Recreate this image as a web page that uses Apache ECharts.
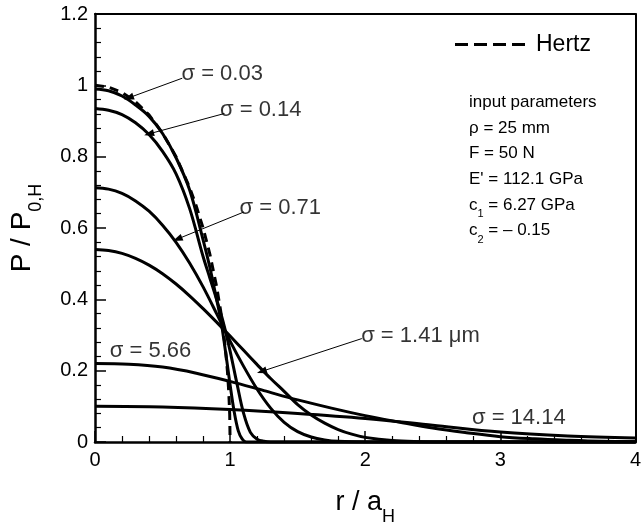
<!DOCTYPE html>
<html><head><meta charset="utf-8">
<script src="https://cdn.jsdelivr.net/npm/echarts@6/dist/echarts.min.js"></script>
<style>html,body{margin:0;padding:0;background:#fff}#c{width:644px;height:531px}</style>
</head><body><div id="c"></div><script>
// ---- data ----
const xTicks = [0, 1, 2, 3, 4];
const yTicks = [0, 0.2, 0.4, 0.6, 0.8, 1, 1.2];

const hertzR = [0,0.1,0.2,0.3,0.4,0.5,0.6,0.7,0.75,0.8,0.85,0.9,0.93,0.95,0.97,0.98,0.99,0.997,1.0];
const hertzP = [1.0,0.995,0.98,0.954,0.917,0.866,0.8,0.714,0.661,0.6,0.527,0.436,0.368,0.312,0.243,0.199,0.141,0.077,0];

const s003R = [0,0.1,0.2,0.3,0.4,0.5,0.6,0.7,0.8,0.85,0.9,0.93,0.96,1.0,1.03,1.06,1.09,1.12,1.2,4];
const s003P = [0.99,0.985,0.97,0.945,0.913,0.865,0.797,0.707,0.567,0.49,0.40,0.344,0.27,0.16,0.085,0.032,0.008,0,0,0];

const s014R = [0,0.1,0.2,0.3,0.4,0.5,0.6,0.7,0.8,0.85,0.9,0.95,1.0,1.05,1.1,1.15,1.2,1.25,1.3,4];
const s014P = [0.935,0.93,0.918,0.895,0.862,0.815,0.752,0.655,0.52,0.46,0.40,0.335,0.255,0.165,0.08,0.027,0.008,0.002,0,0];

const s071R = [0,0.1,0.2,0.3,0.4,0.5,0.6,0.7,0.8,0.9,1.0,1.1,1.2,1.3,1.4,1.5,1.6,1.7,1.8,2.0,4];
const s071P = [0.713,0.709,0.697,0.676,0.647,0.608,0.56,0.502,0.435,0.36,0.283,0.212,0.148,0.095,0.055,0.029,0.014,0.006,0.002,0,0];

const s141R = [0,0.1,0.2,0.3,0.4,0.5,0.6,0.7,0.8,0.9,1.0,1.1,1.2,1.3,1.4,1.5,1.6,1.7,1.8,1.9,2.0,2.2,2.4,2.6,4];
const s141P = [0.54,0.537,0.529,0.515,0.496,0.472,0.443,0.41,0.374,0.336,0.297,0.257,0.217,0.178,0.142,0.105,0.076,0.053,0.035,0.022,0.013,0.004,0.001,0,0];

const s566R = [0,0.25,0.5,0.75,1.0,1.25,1.5,1.75,2.0,2.25,2.5,2.75,3.0,3.25,3.5,3.75,4.0];
const s566P = [0.22,0.218,0.21,0.193,0.17,0.144,0.118,0.095,0.074,0.056,0.039,0.026,0.015,0.009,0.005,0.002,0.001];

const s1414R = [0,0.5,1.0,1.5,2.0,2.5,3.0,3.5,4.0];
const s1414P = [0.10,0.098,0.091,0.080,0.066,0.047,0.028,0.017,0.011];

// annotation labels [r, P, text]
const noteLabels = [
  [0.64, 1.032, 'σ = 0.03'],
  [0.925, 0.932, 'σ = 0.14'],
  [1.07, 0.656, 'σ = 0.71'],
  [1.97, 0.298, 'σ = 1.41 μm'],
  [0.11, 0.255, 'σ = 5.66'],
  [2.79, 0.068, 'σ = 14.14']
];
// arrows [fromR, fromP, toR, toP]
const noteArrows = [
  [0.646, 1.02, 0.25, 0.965],
  [0.958, 0.921, 0.40, 0.864],
  [1.103, 0.645, 0.61, 0.569],
  [1.975, 0.29, 1.234, 0.198]
];
const paramLines = [
  'input parameters',
  'ρ = 25 mm',
  'F = 50 N',
  "E' = 112.1 GPa",
  'c{s|1} = 6.27 GPa',
  'c{s|2} = – 0.15'
];

// ---- chart ----
const FONT = 'Liberation Sans, Arial, sans-serif';
const zip = (r, p) => r.map((v, i) => [v, p[i]]);
const solid = (name, r, p) => ({
  name, type: 'line', data: zip(r, p), showSymbol: false, symbol: 'none', smooth: 0.35,
  lineStyle: { color: '#000', width: 3 }, itemStyle: { color: '#000' }, z: 3, silent: true
});

const chart = echarts.init(document.getElementById('c'), null, { renderer: 'canvas' });
const axisCommon = {
  axisLine: { show: true, onZero: false, lineStyle: { color: '#000', width: 2.5 } },
  splitLine: { show: false }
};
const option = {
  animation: false,
  backgroundColor: '#fff',
  grid: { left: 88, top: 14, right: 5, bottom: 74, containLabel: false },
  xAxis: [
    Object.assign({}, axisCommon, {
      type: 'value', min: 0, max: 4, interval: 1,
      axisTick: { show: true, inside: true, length: 11, lineStyle: { color: '#000', width: 1.5 } },
      minorTick: { show: true, splitNumber: 5, length: 6, lineStyle: { color: '#000', width: 1.2 } },
      axisLabel: { color: '#000', fontSize: 20, fontFamily: FONT, margin: 8,
        formatter: v => xTicks.includes(v) ? String(v) : '' },
      name: 'r / a{s|H}', nameLocation: 'middle', nameGap: 38,
      nameTextStyle: { color: '#000', fontFamily: FONT, fontSize: 27,
        rich: { s: { fontSize: 18, fontFamily: FONT, color: '#000', lineHeight: 46, verticalAlign: 'bottom' } } }
    }),
    Object.assign({}, axisCommon, {
      type: 'value', min: 0, max: 4, position: 'top',
      axisLine: { show: true, onZero: false, lineStyle: { color: '#000', width: 2 } },
      axisTick: { show: false }, axisLabel: { show: false }
    })
  ],
  yAxis: [
    Object.assign({}, axisCommon, {
      type: 'value', min: 0, max: 1.2, interval: 0.2,
      axisTick: { show: true, inside: true, length: 11, lineStyle: { color: '#000', width: 1.5 } },
      minorTick: { show: true, splitNumber: 5, length: 6, lineStyle: { color: '#000', width: 1.2 } },
      axisLabel: { color: '#000', fontSize: 20, fontFamily: FONT, margin: 7,
        formatter: v => { const t = yTicks.find(k => Math.abs(k - v) < 1e-6); return t === undefined ? '' : String(+t.toFixed(1)); } },
      name: 'P / P{s|0,H}', nameLocation: 'middle', nameRotate: 90, nameGap: 50,
      nameTextStyle: { color: '#000', fontFamily: FONT, fontSize: 28,
        rich: { s: { fontSize: 18, fontFamily: FONT, color: '#000', lineHeight: 46, verticalAlign: 'bottom' } } }
    }),
    Object.assign({}, axisCommon, {
      type: 'value', min: 0, max: 1.2, position: 'right',
      axisLine: { show: true, onZero: false, lineStyle: { color: '#000', width: 2 } },
      axisTick: { show: false }, axisLabel: { show: false }
    })
  ],
  legend: {
    data: [{ name: 'Hertz', icon: 'path://M0,0 h13 v3 h-13 Z M19,0 h13 v3 h-13 Z M38,0 h13 v3 h-13 Z M57,0 h13 v3 h-13 Z' }],
    left: 450, top: 28, itemWidth: 70, itemHeight: 3, itemGap: 10,
    itemStyle: { color: '#000' },
    textStyle: { color: '#000', fontSize: 23, fontFamily: FONT, padding: [0, 0, 0, 6] }
  },
  series: [
    {
      name: 'Hertz', type: 'line', data: zip(hertzR, hertzP), showSymbol: false, symbol: 'none',
      smooth: false, z: 4, silent: true,
      lineStyle: { color: '#000', width: 3, type: [9, 6] }, itemStyle: { color: '#000' }
    },
    solid('σ = 0.03', s003R, s003P),
    solid('σ = 0.14', s014R, s014P),
    solid('σ = 0.71', s071R, s071P),
    solid('σ = 1.41', s141R, s141P),
    solid('σ = 5.66', s566R, s566P),
    solid('σ = 14.14', s1414R, s1414P),
    {
      name: 'arrows', type: 'line', data: [], silent: true,
      markLine: {
        silent: true, symbol: ['none', 'triangle'], symbolSize: [7, 10], animation: false,
        label: { show: false },
        lineStyle: { color: '#000', width: 1, type: 'solid' },
        data: noteArrows.map(a => [{ coord: [a[0], a[1]] }, { coord: [a[2], a[3]] }])
      }
    },
    {
      name: 'notes', type: 'scatter', symbolSize: 0, silent: true, z: 5,
      data: noteLabels.map(n => ({ value: [n[0], n[1]], label: { formatter: n[2] } })),
      label: { show: true, position: 'inside', align: 'left', verticalAlign: 'middle',
        color: '#000', fontSize: 22, fontFamily: FONT }
    }
  ]
};
chart.setOption(option);

// parameters text block
const graphics = paramLines.map((t, i) => ({
  type: 'text', left: 469, top: 92 + i * 25.6 + 2,
  style: { text: t, fill: '#000', font: '17px ' + FONT,
    rich: { s: { fontSize: 11, fontFamily: FONT, fill: '#000', lineHeight: 30, verticalAlign: 'bottom' } } },
  silent: true
}));
chart.setOption({ graphic: graphics });
</script></body></html>
